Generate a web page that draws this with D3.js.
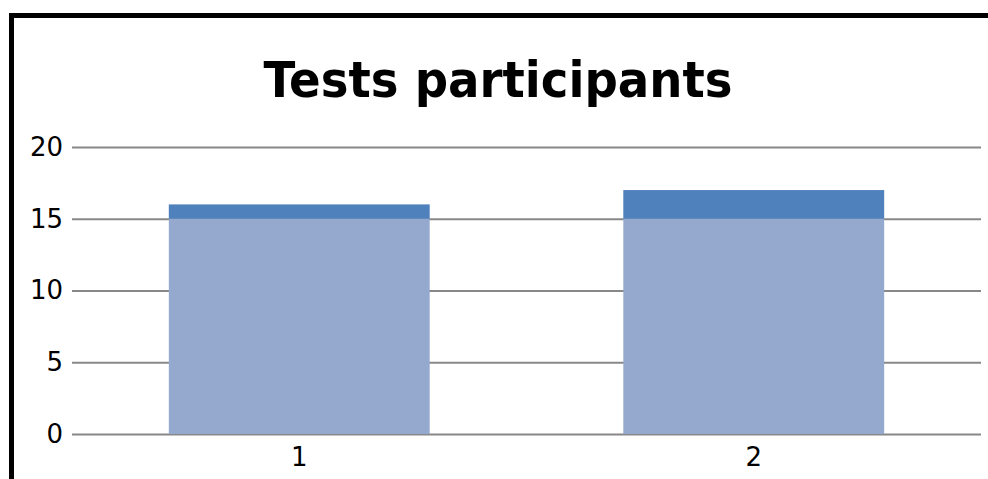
<!DOCTYPE html>
<html><head><meta charset="utf-8">
<script src="https://cdn.jsdelivr.net/npm/d3@7"></script>
<style>html,body{margin:0;padding:0;background:#fff;}svg{display:block;}</style>
</head><body>
<script>
const categories = ["1", "2"];
const seriesBase = [15, 15];
const seriesTop = [1, 2];
const yTicks = [0, 5, 10, 15, 20];
const title = "Tests participants";

const W = 988, H = 479;
const svg = d3.select("body").append("svg").attr("width", W).attr("height", H);
svg.append("rect").attr("width", W).attr("height", H).attr("fill", "#fff");
// frame
svg.append("rect").attr("x", 11.5).attr("y", 15.5).attr("width", 1000).attr("height", 600)
  .attr("fill", "none").attr("stroke", "#000").attr("stroke-width", 5);

const x0 = 72, x1 = 981;
const y = d3.scaleLinear().domain([0, 20]).range([434, 147]);
const xb = d3.scaleBand().domain(categories).range([x0, x1]).padding(0);
const barW = xb.bandwidth() * 0.574;

svg.append("text").attr("x", 498).attr("y", 97).attr("text-anchor", "middle")
  .attr("font-family", "DejaVu Sans").attr("font-weight", "bold").attr("font-size", 50)
  .attr("textLength", 469).attr("lengthAdjust", "spacingAndGlyphs")
  .text(title);

const yAxis = d3.axisLeft(y).tickValues(yTicks).tickSize(-(x1 - x0)).tickPadding(9);
const ga = svg.append("g").attr("transform", `translate(${x0},0)`).call(yAxis);
ga.select(".domain").remove();
ga.selectAll(".tick line").attr("stroke", "#888").attr("stroke-width", 2);
ga.selectAll(".tick text").attr("font-family", "DejaVu Sans").attr("font-size", 26).attr("fill", "#000");

const data = categories.map((c, i) => ({c, base: seriesBase[i], top: seriesTop[i]}));
svg.selectAll("rect.base").data(data).enter().append("rect").attr("class", "base")
  .attr("x", d => xb(d.c) + (xb.bandwidth() - barW) / 2).attr("width", barW)
  .attr("y", d => y(d.base)).attr("height", d => y(0) - y(d.base)).attr("fill", "#95a9cf");
svg.selectAll("rect.top").data(data).enter().append("rect").attr("class", "top")
  .attr("x", d => xb(d.c) + (xb.bandwidth() - barW) / 2).attr("width", barW)
  .attr("y", d => y(d.base + d.top)).attr("height", d => y(d.base) - y(d.base + d.top)).attr("fill", "#4f81bd");

const xAxis = d3.axisBottom(xb).tickSize(0).tickPadding(14);
const gx = svg.append("g").attr("transform", `translate(0,434)`).call(xAxis);
gx.select(".domain").remove();
gx.selectAll(".tick text").attr("font-family", "DejaVu Sans").attr("font-size", 26).attr("fill", "#000");
</script>
</body></html>
